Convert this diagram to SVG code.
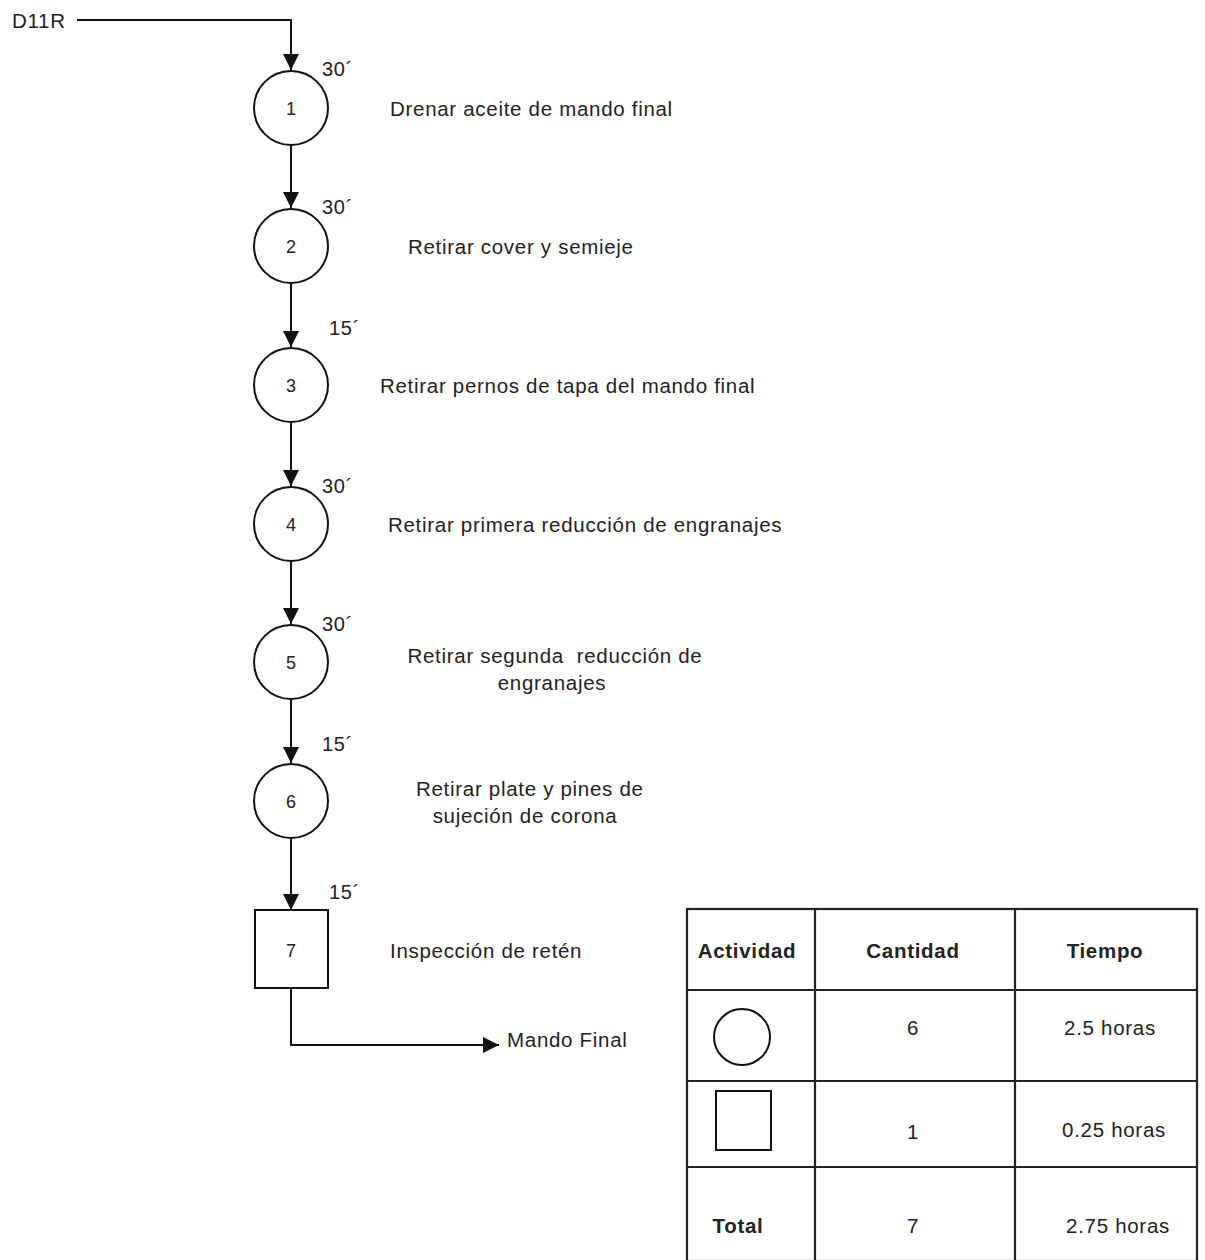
<svg xmlns="http://www.w3.org/2000/svg" width="1205" height="1260" viewBox="0 0 1205 1260">
  <style>
    text { font-family: "Liberation Sans", Arial, sans-serif; fill: #222; letter-spacing: 0.7px; }
    .lbl { font-size: 20.5px; }
    .num { font-size: 18px; text-anchor: middle; letter-spacing: 0; }
    .time { font-size: 20px; }
    .node { fill: #fff; stroke: #111; stroke-width: 2; }
    .edge { fill: none; stroke: #111; stroke-width: 2; }
    .grid { fill: none; stroke: #222; stroke-width: 2.2; }
    .th { font-size: 20.5px; font-weight: bold; text-anchor: middle; }
    .td { font-size: 20.5px; text-anchor: middle; }
  </style>
  <defs>
    <marker id="arrowBig" viewBox="0 0 10 10" refX="10" refY="5" markerWidth="16" markerHeight="16" orient="auto" markerUnits="userSpaceOnUse">
      <path d="M0,0 L10,5 L0,10 z" fill="#111"/>
    </marker>
  </defs>
  <rect width="1205" height="1260" fill="#fff"/>

  <text class="lbl" x="12" y="28">D11R</text>

  <g id="connectors">
    <path class="edge" d="M77,20 H291 V70" marker-end="url(#arrowBig)"/>
    <path class="edge" d="M291,146 V208" marker-end="url(#arrowBig)"/>
    <path class="edge" d="M291,284 V347" marker-end="url(#arrowBig)"/>
    <path class="edge" d="M291,423 V486" marker-end="url(#arrowBig)"/>
    <path class="edge" d="M291,562 V624" marker-end="url(#arrowBig)"/>
    <path class="edge" d="M291,700 V763" marker-end="url(#arrowBig)"/>
    <path class="edge" d="M291,839 V910" marker-end="url(#arrowBig)"/>
    <path class="edge" d="M291,988 V1045 H499" marker-end="url(#arrowBig)"/>
  </g>

  <g id="node1">
    <circle class="node" cx="291" cy="108" r="37"/>
    <text class="num" x="291" y="115">1</text>
    <text class="time" x="322" y="76">30´</text>
    <text class="lbl" x="390" y="116">Drenar aceite de mando final</text>
  </g>
  <g id="node2">
    <circle class="node" cx="291" cy="246" r="37"/>
    <text class="num" x="291" y="253">2</text>
    <text class="time" x="322" y="214">30´</text>
    <text class="lbl" x="408" y="254">Retirar cover y semieje</text>
  </g>
  <g id="node3">
    <circle class="node" cx="291" cy="385" r="37"/>
    <text class="num" x="291" y="392">3</text>
    <text class="time" x="329" y="335">15´</text>
    <text class="lbl" x="380" y="393">Retirar pernos de tapa del mando final</text>
  </g>
  <g id="node4">
    <circle class="node" cx="291" cy="524" r="37"/>
    <text class="num" x="291" y="531">4</text>
    <text class="time" x="322" y="493">30´</text>
    <text class="lbl" x="388" y="532">Retirar primera reducción de engranajes</text>
  </g>
  <g id="node5">
    <circle class="node" cx="291" cy="662" r="37"/>
    <text class="num" x="291" y="669">5</text>
    <text class="time" x="322" y="631">30´</text>
    <text class="lbl" x="555" y="663" text-anchor="middle" xml:space="preserve">Retirar segunda  reducción de</text>
    <text class="lbl" x="552" y="690" text-anchor="middle">engranajes</text>
  </g>
  <g id="node6">
    <circle class="node" cx="291" cy="801" r="37"/>
    <text class="num" x="291" y="808">6</text>
    <text class="time" x="322" y="751">15´</text>
    <text class="lbl" x="416" y="796">Retirar plate y pines de</text>
    <text class="lbl" x="525" y="823" text-anchor="middle">sujeción de corona</text>
  </g>
  <g id="node7">
    <rect class="node" x="255" y="910" width="73" height="78"/>
    <text class="num" x="291" y="957">7</text>
    <text class="time" x="329" y="899">15´</text>
    <text class="lbl" x="390" y="958">Inspección de retén</text>
  </g>
  <g id="end">
    <text class="lbl" x="507" y="1047">Mando Final</text>
  </g>

  <g id="summary-table">
    <rect class="grid" x="687" y="909" width="510" height="352"/>
    <line class="grid" x1="815" y1="909" x2="815" y2="1261"/>
    <line class="grid" x1="1015" y1="909" x2="1015" y2="1261"/>
    <line class="grid" x1="687" y1="990" x2="1197" y2="990"/>
    <line class="grid" x1="687" y1="1081" x2="1197" y2="1081"/>
    <line class="grid" x1="687" y1="1167" x2="1197" y2="1167"/>

    <text class="th" x="747" y="958">Actividad</text>
    <text class="th" x="913" y="958">Cantidad</text>
    <text class="th" x="1105" y="958">Tiempo</text>

    <circle class="node" cx="742" cy="1037" r="28"/>
    <text class="td" x="913" y="1035">6</text>
    <text class="td" x="1110" y="1035">2.5 horas</text>

    <rect class="node" x="716" y="1091" width="55" height="59"/>
    <text class="td" x="913" y="1139">1</text>
    <text class="td" x="1114" y="1137">0.25 horas</text>

    <text class="th" x="738" y="1233">Total</text>
    <text class="td" x="913" y="1233">7</text>
    <text class="td" x="1118" y="1233">2.75 horas</text>
  </g>
</svg>
